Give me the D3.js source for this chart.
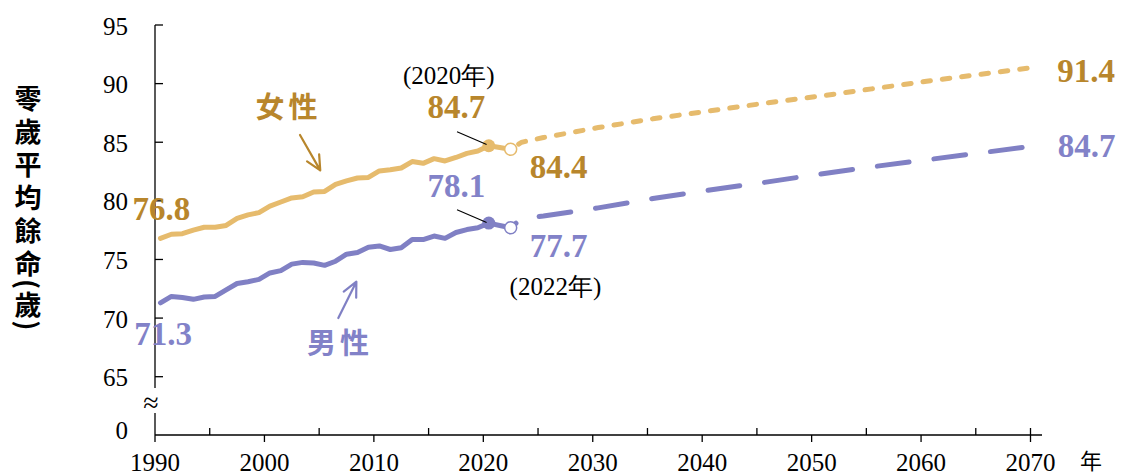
<!DOCTYPE html>
<html><head><meta charset="utf-8">
<script src="https://cdn.jsdelivr.net/npm/d3@7"></script>
<style>body{margin:0;background:#fff} svg{display:block}</style>
</head><body>
<svg id="c" width="1123" height="475"></svg>
<script>
// ---------------- DATA ----------------
const histYears = d3.range(1990, 2023);
const femaleHist = [76.8,77.15,77.2,77.5,77.75,77.75,77.9,78.5,78.8,79.0,
  79.55,79.9,80.25,80.35,80.75,80.8,81.4,81.7,81.95,82.0,
  82.55,82.65,82.8,83.35,83.2,83.6,83.4,83.7,84.05,84.25,
  84.7,84.55,84.4];
const maleHist = [71.3,71.85,71.75,71.6,71.8,71.85,72.4,72.95,73.1,73.3,
  73.85,74.05,74.6,74.75,74.7,74.5,74.85,75.45,75.6,76.05,
  76.15,75.85,76.0,76.7,76.7,77.0,76.8,77.3,77.55,77.7,
  78.1,77.9,77.7];
const projYears  = [2022,2023,2025,2030,2035,2040,2045,2050,2055,2060,2065,2070];
const femaleProj = [84.4,85.0,85.4,86.25,87.0,87.65,88.3,88.9,89.55,90.2,90.8,91.4];
const maleProj   = [77.7,78.5,78.7,79.4,80.2,80.9,81.55,82.25,82.9,83.5,84.1,84.7];
const yTicks = [65,70,75,80,85,90,95];
const xMajor = [1990,2000,2010,2020,2030,2040,2050,2060,2070];
const xMinor = [1995,2005,2015,2025,2035,2045,2055,2065];
const titleMain = "零歲平均餘命";
const titleUnit = "(歲)";

// ---------------- STYLE ----------------
const FEM_LINE = "#E6BB6D", FEM_TEXT = "#B8862C";
const MAL_LINE = "#8080C4", MAL_TEXT = "#8282C8";
const SERIF = "'Liberation Serif','Times New Roman',serif";
const CJK = "'Noto Sans CJK TC','Noto Sans CJK SC',sans-serif";

const svg = d3.select("#c");
const x = d3.scaleLinear().domain([1990, 2070]).range([155, 1030.5]);
const y = d3.scaleLinear().domain([65, 95]).range([376.7, 25]);
const px = yr => x(yr + 0.5);   // data plotted at mid-year
const axisY = 435;

// ---------------- AXES ----------------
const g = svg.append("g");
g.append("line").attr("x1",x(1990)).attr("x2",x(1990)).attr("y1",y(95)).attr("y2",388)
  .attr("stroke","#000").attr("stroke-width",1.3);
g.append("line").attr("x1",x(1990)).attr("x2",x(1990)).attr("y1",413).attr("y2",axisY)
  .attr("stroke","#000").attr("stroke-width",1.3);
g.selectAll(".yt").data(yTicks).join("line")
  .attr("x1",x(1990)).attr("x2",x(1990)+8).attr("y1",d=>y(d)).attr("y2",d=>y(d))
  .attr("stroke","#000").attr("stroke-width",1.3);
g.selectAll(".yl").data(yTicks).join("text")
  .attr("x",128).attr("y",d=>y(d)+1).attr("text-anchor","end").attr("dominant-baseline","central")
  .attr("font-family",SERIF).attr("font-size",25).text(d=>d);
g.append("text").attr("x",128).attr("y",430).attr("text-anchor","end").attr("dominant-baseline","central")
  .attr("font-family",SERIF).attr("font-size",25).text("0");
g.append("text").attr("x",x(1990)-4).attr("y",402).attr("text-anchor","middle").attr("dominant-baseline","central")
  .attr("font-family",SERIF).attr("font-size",28).text("≈");

// x axis
g.append("line").attr("x1",x(1990)).attr("x2",1042).attr("y1",axisY).attr("y2",axisY)
  .attr("stroke","#000").attr("stroke-width",1.3);
g.selectAll(".xt").data(xMajor).join("line")
  .attr("x1",d=>x(d)).attr("x2",d=>x(d)).attr("y1",d=>d===2070?axisY-7:axisY).attr("y2",axisY+7)
  .attr("stroke","#000").attr("stroke-width",1.3);
g.selectAll(".xm").data(xMinor).join("line")
  .attr("x1",d=>x(d)).attr("x2",d=>x(d)).attr("y1",axisY-7).attr("y2",axisY)
  .attr("stroke","#000").attr("stroke-width",1.3);
g.selectAll(".xl").data(xMajor).join("text")
  .attr("x",d=>x(d)).attr("y",471).attr("text-anchor","middle")
  .attr("font-family",SERIF).attr("font-size",25).text(d=>d);
g.append("text").attr("x",1091).attr("y",469).attr("text-anchor","middle")
  .attr("font-family",CJK).attr("font-size",22).text("年");

// y title (vertical writing)
g.append("text").attr("x",28).attr("y",85)
  .style("writing-mode","vertical-rl")
  .attr("font-family",CJK).attr("font-weight","bold").attr("font-size",27).attr("letter-spacing",6)
  .text(titleMain);
g.append("text").attr("x",28).attr("y",279)
  .style("writing-mode","vertical-rl")
  .attr("font-family",CJK).attr("font-weight","bold").attr("font-size",27).attr("letter-spacing",2)
  .text(titleUnit);

// ---------------- LINES ----------------
const line = d3.line().x(d=>px(d[0])).y(d=>y(d[1]));
const fh = histYears.map((yr,i)=>[yr,femaleHist[i]]);
const mh = histYears.map((yr,i)=>[yr,maleHist[i]]);
const fp = projYears.map((yr,i)=>[yr,femaleProj[i]]);
const mp = projYears.map((yr,i)=>[yr,maleProj[i]]);

svg.append("path").attr("d",line(fp)).attr("fill","none").attr("stroke",FEM_LINE)
  .attr("stroke-width",5).attr("stroke-linecap","round").attr("stroke-dasharray","7.5,12").attr("stroke-dashoffset",10);
svg.append("path").attr("d",line(mp)).attr("fill","none").attr("stroke",MAL_LINE)
  .attr("stroke-width",5).attr("stroke-linecap","round").attr("stroke-dasharray","32,25").attr("stroke-dashoffset",25);
svg.append("path").attr("d",line(fh)).attr("fill","none").attr("stroke",FEM_LINE)
  .attr("stroke-width",5).attr("stroke-linejoin","round").attr("stroke-linecap","round");
svg.append("path").attr("d",line(mh)).attr("fill","none").attr("stroke",MAL_LINE)
  .attr("stroke-width",5).attr("stroke-linejoin","round").attr("stroke-linecap","round");

// markers
const i2020 = histYears.indexOf(2020);
svg.append("circle").attr("cx",px(2020)).attr("cy",y(femaleHist[i2020])).attr("r",6.5).attr("fill",FEM_LINE);
svg.append("circle").attr("cx",px(2020)).attr("cy",y(maleHist[i2020])).attr("r",6.5).attr("fill",MAL_LINE);
svg.append("circle").attr("cx",px(2022)).attr("cy",y(femaleProj[0])).attr("r",6).attr("fill","#fff")
  .attr("stroke",FEM_LINE).attr("stroke-width",1.5);
svg.append("circle").attr("cx",px(2022)).attr("cy",y(maleProj[0])).attr("r",6).attr("fill","#fff")
  .attr("stroke",MAL_LINE).attr("stroke-width",1.5);

// ---------------- ANNOTATIONS ----------------
const pxA = yr => x(yr);
function label(t, yr, v, color, size, anchor, weight, family) {
  svg.append("text").attr("x",pxA(yr)).attr("y",y(v)).attr("text-anchor",anchor||"start")
    .attr("font-family",family||SERIF).attr("font-weight",weight||"bold").attr("font-size",size)
    .attr("fill",color).text(t);
}
label("76.8", 1987.95, 78.38, FEM_TEXT, 33);
label("71.3", 1988.1, 67.73, MAL_TEXT, 33);
label("84.7", 2014.9, 87.07, FEM_TEXT, 33);
label("78.1", 2014.9, 80.34, MAL_TEXT, 33);
label("84.4", 2024.25, 81.96, FEM_TEXT, 33);
label("77.7", 2024.25, 75.23, MAL_TEXT, 33);
label("91.4", 2072.45, 90.17, FEM_TEXT, 33);
label("84.7", 2072.5, 83.75, MAL_TEXT, 33);
label("(2020年)", 2012.65, 89.97, "#000", 25, "start", "normal");
label("(2022年)", 2022.4, 71.99, "#000", 25, "start", "normal");

svg.append("text").attr("x",pxA(2002.2)).attr("y",y(87.1)).attr("text-anchor","middle")
  .attr("font-family",CJK).attr("font-weight","bold").attr("font-size",29).attr("letter-spacing",4)
  .attr("fill",FEM_TEXT).text("女性");
svg.append("text").attr("x",pxA(2006.9)).attr("y",y(66.9)).attr("text-anchor","middle")
  .attr("font-family",CJK).attr("font-weight","bold").attr("font-size",29).attr("letter-spacing",4)
  .attr("fill",MAL_TEXT).text("男性");

function arrow(x1,v1,x2,v2,color){
  const X1=pxA(x1),Y1=y(v1),X2=pxA(x2),Y2=y(v2);
  const ang=Math.atan2(Y2-Y1,X2-X1), L=16, a=0.45;
  svg.append("path").attr("d",
    `M${X1},${Y1}L${X2},${Y2}M${X2-L*Math.cos(ang-a)},${Y2-L*Math.sin(ang-a)}L${X2},${Y2}L${X2-L*Math.cos(ang+a)},${Y2-L*Math.sin(ang+a)}`)
    .attr("fill","none").attr("stroke",color).attr("stroke-width",2.2).attr("stroke-linecap","round").attr("stroke-linejoin","round");
}
arrow(2003.25,85.62,2005.1,82.6,FEM_TEXT);
arrow(2006.75,70.0,2008.4,73.1,MAL_LINE);

function pointer(x1,v1,x2,v2){
  svg.append("line").attr("x1",pxA(x1)).attr("y1",y(v1)).attr("x2",pxA(x2)).attr("y2",y(v2))
    .attr("stroke","#000").attr("stroke-width",1.1);
}
pointer(2017.6,85.9,2020.3,84.8);
pointer(2017.6,79.25,2020.3,78.15);
</script>
</body></html>
